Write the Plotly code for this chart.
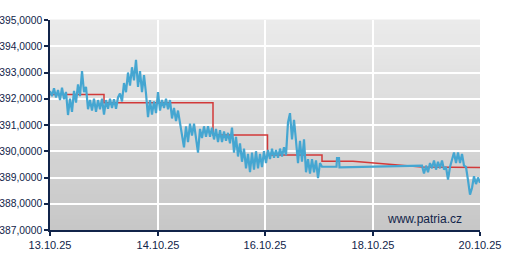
import plotly.graph_objects as go
import numpy as np

# ---------------- data ----------------
# sample index: one sample every step along the time axis
tick_pos = [0, 54, 107.5, 161.5, 215]
tick_labels = ["13.10.25", "14.10.25", "16.10.25", "18.10.25", "20.10.25"]

# blue series, first session (samples 0..136)
blue_s1 = [
    392.30, 392.10, 392.40, 392.05, 392.33, 391.95, 392.42, 391.98, 392.26, 391.38,
    392.00, 391.50, 392.30, 391.85, 392.55, 392.10, 393.05, 392.25, 392.45, 391.60,
    391.95, 391.55, 392.00, 391.50, 391.95, 391.60, 392.00, 391.40, 391.95, 391.62,
    392.00, 391.65, 391.98, 391.62, 392.05, 392.20, 391.90, 392.60, 392.25, 393.00,
    392.50, 393.20, 392.70, 393.48, 392.45, 393.05, 392.25, 392.90, 392.20, 391.30,
    391.95, 391.40, 391.90, 391.45, 392.25, 391.55, 391.95, 391.65, 392.00, 391.60,
    391.95, 391.25, 391.65, 391.15, 391.55, 391.05, 390.50, 390.15, 390.95, 390.35,
    391.05, 390.60, 391.05, 390.55, 389.95, 390.85, 390.50, 390.95, 390.55, 390.95,
    390.55, 390.90, 390.45, 390.85, 390.35, 390.80, 390.35, 390.75, 390.40, 390.70,
    390.30, 390.90, 389.95, 390.55, 389.80, 390.30, 389.60, 390.10, 389.35, 389.90,
    389.20, 389.95, 389.30, 390.00, 389.35, 389.90, 389.40, 390.00, 389.55, 390.05,
    389.70, 390.10, 389.75, 390.05, 389.75, 390.10, 389.80, 390.15, 389.85, 391.10,
    391.45, 390.45, 391.20, 390.40, 389.55, 390.40, 389.60, 390.45, 389.20, 389.70,
    389.15, 389.70, 389.20, 389.65, 388.98, 389.55, 389.41,
]
# quiet stretch (sparse ticks)
blue_flat_x = [143.25, 143.5, 144.5, 144.75, 186]
blue_flat_y = [389.41, 389.74, 389.74, 389.39, 389.45]
# second session (samples 186..215)
blue_s2 = [
    389.45, 389.15, 389.45, 389.20, 389.55, 389.35, 389.65, 389.30, 389.60, 389.35,
    389.65, 389.30, 389.40, 388.92, 389.40, 389.70, 389.95, 389.55, 389.95, 389.55,
    389.90, 389.45, 389.40, 388.90, 388.35, 388.60, 389.05, 388.75, 389.00, 388.80,
]

# red fixing line (step values)
red_x = [0, 27, 27, 81.5, 81.5, 108.75, 108.75, 136, 136, 151.5, 186, 215]
red_y = [392.16, 392.16, 391.85, 391.85, 390.62, 390.62, 389.86, 389.86,
         389.62, 389.62, 389.40, 389.38]

y_min, y_max = 387, 395

# ---------------- build ----------------
blue_x = list(np.arange(len(blue_s1))) + blue_flat_x + list(186 + np.arange(1, len(blue_s2)))
blue_y = blue_s1 + blue_flat_y + blue_s2[1:]

navy = "#11244a"
fig = go.Figure()
fig.add_trace(go.Scatter(x=red_x, y=red_y, mode="lines",
                         line=dict(color="#d23a3a", width=1.5), hoverinfo="skip"))
fig.add_trace(go.Scatter(x=blue_x, y=blue_y, mode="lines",
                         line=dict(color="#45a6d1", width=2.2), hoverinfo="skip"))

# gradient background via bands
shapes = []
n = 42
top = np.array([236, 236, 236])
bot = np.array([199, 199, 199])
for i in range(n):
    f = (i + 0.5) / n
    c = top * (1 - f) + bot * f
    shapes.append(dict(type="rect", xref="paper", yref="paper",
                       x0=0, x1=1, y0=1 - (i + 1) / n, y1=1 - i / n + 0.002,
                       fillcolor="rgb(%d,%d,%d)" % tuple(c.astype(int)),
                       line=dict(width=0), layer="below"))

fig.update_layout(
    width=509, height=270,
    margin=dict(l=50, r=29, t=20, b=40, autoexpand=False),
    paper_bgcolor="white", plot_bgcolor="rgba(0,0,0,0)",
    showlegend=False,
    separators=", ",
    font=dict(family="Liberation Sans, Arial, sans-serif", size=11, color=navy),
    shapes=shapes,
    xaxis=dict(range=[0, 215], tickmode="array", tickvals=tick_pos, ticktext=tick_labels,
               showgrid=True, gridcolor="white", gridwidth=1.5, automargin=False,
               showline=True, linecolor=navy, linewidth=1.5,
               ticks="outside", ticklen=4, tickcolor=navy, tickwidth=1.5,
               zeroline=False, fixedrange=True),
    yaxis=dict(range=[y_min, y_max], dtick=1, tick0=387, tickformat=".4f",
               tickfont=dict(size=10.3),
               showgrid=True, gridcolor="white", gridwidth=1.5, automargin=False,
               showline=True, linecolor=navy, linewidth=1.5,
               ticks="outside", ticklen=4, tickcolor=navy, tickwidth=1.5,
               zeroline=False, fixedrange=True),
    annotations=[dict(text="www.patria.cz", xref="paper", yref="paper",
                      x=0.872, y=0.052, xanchor="center", yanchor="middle",
                      showarrow=False, font=dict(size=12, color=navy))],
)

fig.write_html("out.html", config={"displayModeBar": False})
